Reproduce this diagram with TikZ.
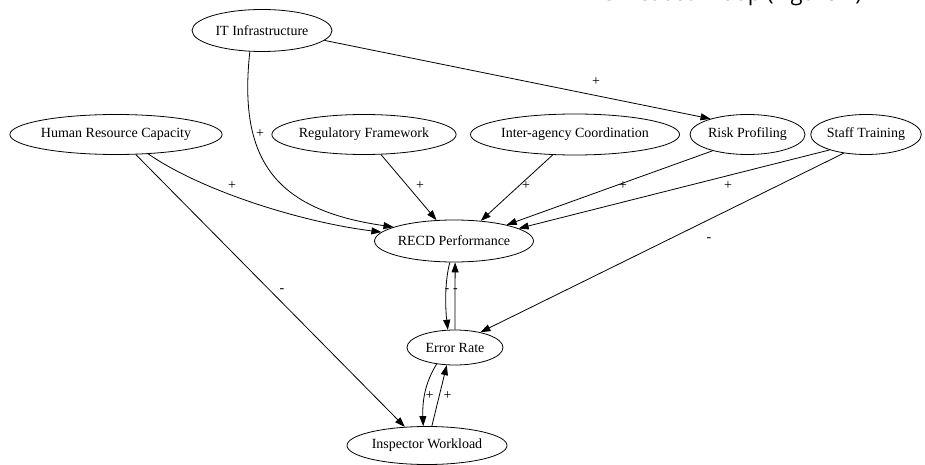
\documentclass[tikz,border=0pt]{standalone}
\usepackage{fontspec}
\setmainfont{Liberation Serif}
\newfontfamily\titlefont{Open Sans}
\usetikzlibrary{arrows.meta,shapes.geometric}
\begin{document}
\begin{tikzpicture}[x=1pt,y=-1pt,
  var/.style={ellipse,draw,line width=0.8pt,inner sep=0pt,font=\fontsize{14}{16}\selectfont},
  arr/.style={draw,line width=0.8pt,-{Triangle[length=10pt,width=7pt]}},
  lbl/.style={font=\fontsize{14}{16}\selectfont,inner sep=0pt}]
\useasboundingbox (0,0) rectangle (925,465);
% clipped title at top
\node[anchor=base east,inner sep=0pt,font=\titlefont\fontsize{22}{26}\selectfont] (title) at (862,1) {RECD Causal Loop (Figure 1)};
% variables
\node[var,minimum width=140pt,minimum height=42pt] (it) at (262,30.5) {IT Infrastructure};
\node[var,minimum width=211pt,minimum height=40pt] (hr) at (116,134.5) {Human Resource Capacity};
\node[var,minimum width=182pt,minimum height=40pt] (reg) at (364,134.5) {Regulatory Framework};
\node[var,minimum width=206pt,minimum height=41pt] (iac) at (575,134.5) {Inter-agency Coordination};
\node[var,minimum width=115pt,minimum height=40pt] (rp) at (747.5,134.5) {Risk Profiling};
\node[var,minimum width=96pt,minimum height=40pt] (st) at (866,134.5) {Staff Training};
\node[var,minimum width=158pt,minimum height=42pt] (recd) at (454,241) {RECD Performance};
\node[var,minimum width=96pt,minimum height=35pt] (er) at (455,347.5) {Error Rate};
\node[var,minimum width=160pt,minimum height=38pt] (iw) at (427,445.5) {Inspector Workload};
% links
\draw[arr] (it.351) -- (rp.157);
\draw[arr] (it.240) .. controls (238,160) and (275,210) .. (recd.167);
\draw[arr] (hr.329) .. controls (200,190) and (300,222) .. (recd.173);
\draw[arr] (hr) -- (iw.140);
\draw[arr] (reg) -- (recd.130);
\draw[arr] (iac) -- (recd.37);
\draw[arr] (rp.205) -- (recd.17);
\draw[arr] (st.203) -- (recd.11);
\draw[arr] (st.220) -- (er.31);
\draw[arr] (recd.259) .. controls (445,280) and (445,305) .. (er.112);
\draw[arr] (er.90) -- (recd.273);
\draw[arr] (er.222) .. controls (428,378) and (422,395) .. (iw.101);
\draw[arr] (iw.76) -- (er.245);
% polarity labels
\node[lbl] (l1) at (596,82) {+};
\node[lbl] (l2) at (260,134) {+};
\node[lbl] (l3) at (232,186) {+};
\node[lbl] (l4) at (420,186) {+};
\node[lbl] (l5) at (526,186) {+};
\node[lbl] (l6) at (623,186) {+};
\node[lbl] (l7) at (728,186) {+};
\node[lbl] (l8) at (709,240) {-};
\node[lbl] (l9) at (282,291) {-};
\node[lbl] (l10) at (447,291) {-};
\node[lbl] (l11) at (455.5,291) {-};
\node[lbl] (l12) at (429.5,396) {+};
\node[lbl] (l13) at (447.5,396) {+};
\end{tikzpicture}
\end{document}
